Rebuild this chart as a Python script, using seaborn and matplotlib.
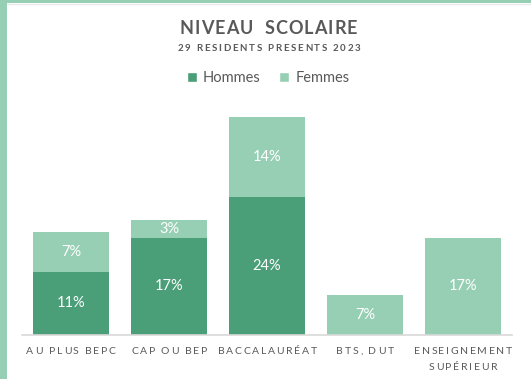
import matplotlib
matplotlib.use("Agg")
import matplotlib.pyplot as plt
from matplotlib.patches import Rectangle, Patch
from matplotlib.font_manager import FontProperties, findfont, get_font
import seaborn as sns
import pandas as pd

# Education level of residents, share of the 29 residents (%)
categories = ["AU PLUS BEPC", "CAP OU BEP", "BACCALAURÉAT", "BTS, DUT", "ENSEIGNEMENT\nSUPÉRIEUR"]
hommes = [11, 17, 24, 0, 0]
femmes = [7, 3, 14, 7, 17]

title = "NIVEAU  SCOLAIRE"
subtitle = "29 RESIDENTS PRESENTS 2023"

DARK = "#4A9E78"
LIGHT = "#97CFB4"
GREY = "#595959"

sns.set_theme(style="white")
plt.rcParams["font.family"] = ["Lato", "DejaVu Sans"]

W, H, DPI = 531, 379, 100
fig = plt.figure(figsize=(W / DPI, H / DPI), dpi=DPI)
fig.patch.set_facecolor("white")

ax = fig.add_axes([22 / W, (H - 335) / H, 490 / W, 235 / H])

df = pd.DataFrame({
    "categorie": categories,
    "Hommes": hommes,
    "Femmes": femmes,
})
df["Total"] = df["Hommes"] + df["Femmes"]

# stacked bars: totals in the light colour, men drawn over them
sns.barplot(data=df, x="categorie", y="Total", color=LIGHT, saturation=1,
            width=0.775, ax=ax, edgecolor="none")
sns.barplot(data=df, x="categorie", y="Hommes", color=DARK, saturation=1,
            width=0.775, ax=ax, edgecolor="none")

ax.set_xlim(-0.5, len(categories) - 0.5)
ax.set_ylim(0, 41)
ax.set_xlabel("")
ax.set_ylabel("")
ax.set_yticks([])
ax.set_xticks(range(len(categories)))
ax.set_xticklabels([])
ax.tick_params(axis="x", length=0)
for s in ["top", "left", "right"]:
    ax.spines[s].set_visible(False)
ax.spines["bottom"].set_color("#D9D9D9")
ax.spines["bottom"].set_linewidth(1.2)

# value labels centred in each segment
for i, (h, f) in enumerate(zip(hommes, femmes)):
    if h > 0:
        ax.text(i, h / 2, f"{h}%", ha="center", va="center",
                color="white", fontsize=10.5)
    if f > 0:
        ax.text(i, h + f / 2, f"{f}%", ha="center", va="center",
                color="white", fontsize=10.5)


def char_advance(ch, size, weight):
    """Horizontal advance of a glyph in pixels."""
    prop = FontProperties(family="Lato", size=size, weight=weight)
    font = get_font(findfont(prop))
    font.set_size(size, DPI)
    glyph = font.load_char(ord(ch))
    return glyph.linearHoriAdvance / 65536


def spaced_text(s, cx, cy, track, size, weight="normal", **kw):
    """Draw letter-spaced text centred at pixel (cx, cy) from the top-left."""
    widths = [char_advance(c, size, weight) for c in s]
    total = sum(widths) + track * (len(s) - 1)
    x = cx - total / 2
    for c, w in zip(s, widths):
        if c != " ":
            fig.text(x / W, 1 - cy / H, c, ha="left", va="center",
                     fontsize=size, fontweight=weight, **kw)
        x += w + track


spaced_text(title, 268.5, 29, 1.0, 13, "bold", color=GREY)
spaced_text(subtitle, 269, 48.5, 1.7, 7, "bold", color=GREY)

# category labels under the axis
for i, cat in enumerate(categories):
    px = ax.transData.transform((i, 0))[0]
    for j, line in enumerate(cat.split("\n")):
        spaced_text(line, px, 352 + j * 15.5, 1.7, 7.5, color=GREY)

handles = [Patch(facecolor=DARK, label="Hommes"), Patch(facecolor=LIGHT, label="Femmes")]
fig.legend(handles=handles, loc="center", bbox_to_anchor=(268 / W, 1 - 78 / H),
           ncol=2, frameon=False, fontsize=10.5, labelcolor=GREY,
           handlelength=0.7, handleheight=0.7, handletextpad=0.4,
           columnspacing=1.3)

# chart frame accent
fig.patches.append(Rectangle((0, 0), 7 / W, 1, transform=fig.transFigure,
                             facecolor="#96CFB4", edgecolor="none", zorder=0))
fig.patches.append(Rectangle((0, 1 - 3 / H), 1, 3 / H, transform=fig.transFigure,
                             facecolor="#96CFB4", edgecolor="none", zorder=0))
fig.lines.append(plt.Line2D([7 / W, 1], [1 - 4 / H, 1 - 4 / H], transform=fig.transFigure,
                            color="#E6E6E6", linewidth=0.8))

fig.savefig("out.png", dpi=DPI)
